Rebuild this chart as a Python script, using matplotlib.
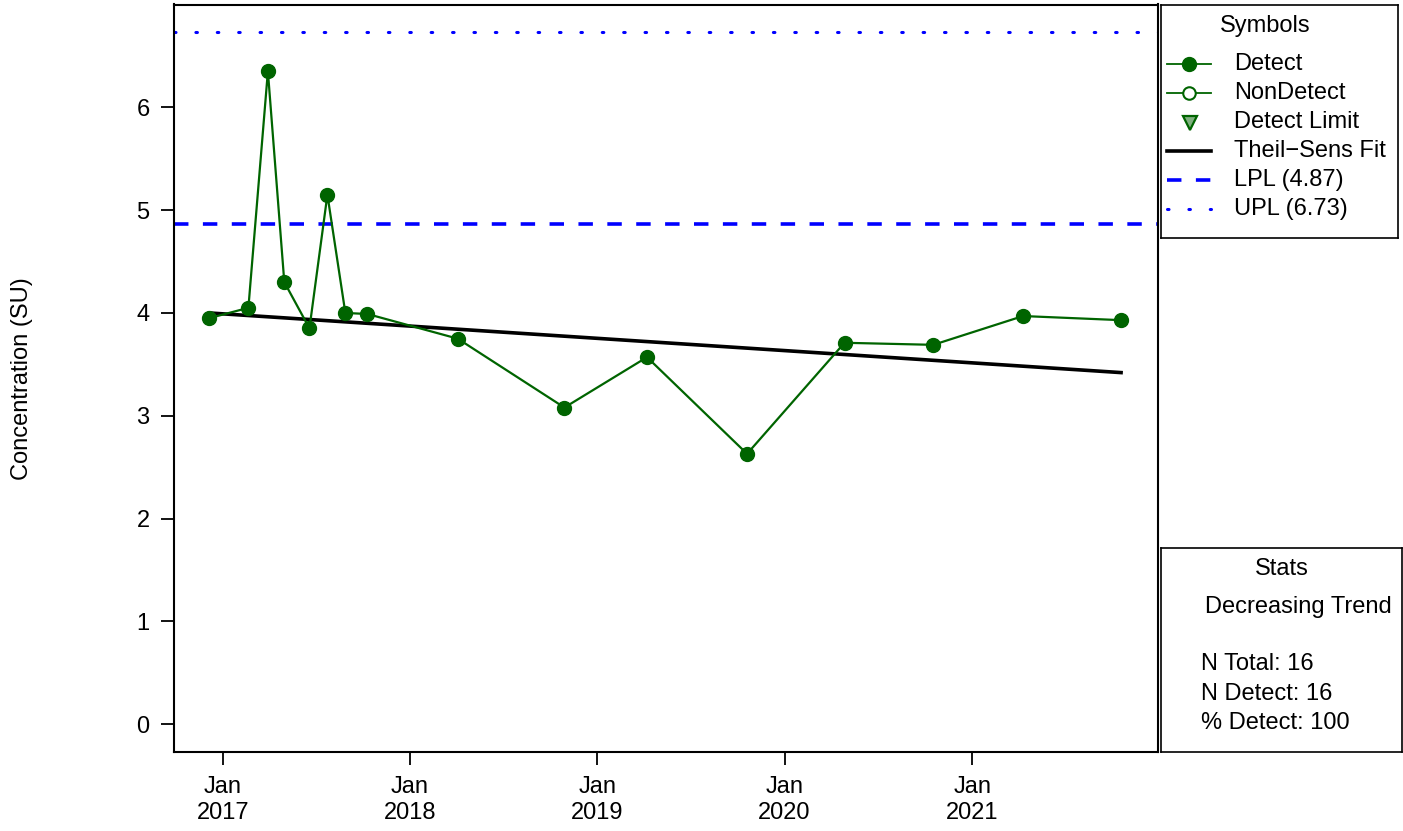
import numpy as np
import pandas as pd
import matplotlib
matplotlib.use("Agg")
from matplotlib import pyplot as plt
import matplotlib.dates as mdates
from matplotlib.lines import Line2D

plt.rcParams['font.family'] = ['Liberation Sans', 'DejaVu Sans']

# Sample data
sample_dates = pd.to_datetime([
    "2016-12-06", "2017-02-20", "2017-03-30", "2017-05-01", "2017-06-19",
    "2017-07-24", "2017-08-28", "2017-10-10", "2018-04-04", "2018-10-29",
    "2019-04-08", "2019-10-20", "2020-04-27", "2020-10-17", "2021-04-10",
    "2021-10-18"])
concentration = [3.95, 4.05, 6.35, 4.30, 3.85, 5.15, 4.00, 3.99, 3.75, 3.08,
                 3.57, 2.63, 3.71, 3.69, 3.97, 3.93]

# Theil-Sen fit end points
fit_dates = pd.to_datetime(["2016-12-06", "2021-10-18"])
fit_values = [4.00, 3.42]

lpl = 4.87
upl = 6.73

tick_years = [2017, 2018, 2019, 2020, 2021]
y_ticks = [0, 1, 2, 3, 4, 5, 6]

legend_labels = ["Detect", "NonDetect", "Detect Limit", "Theil\u2212Sens Fit",
                 "LPL (%.2f)" % lpl, "UPL (%.2f)" % upl]
stats_lines = ["N Total: 16", "N Detect: 16", "% Detect: 100"]
trend_text = "Decreasing Trend"

W, H = 1403, 831
fig = plt.figure(figsize=(W / 100, H / 100), dpi=100)

def px_axes(x0, y0, x1, y1):
    # Axes from pixel box (top-left origin)
    return fig.add_axes([x0 / W, 1 - y1 / H, (x1 - x0) / W, (y1 - y0) / H])

green = "#006400"
blue = "#0000FF"
fs = 17

ax = px_axes(174, 4.5, 1158, 752)
ax.plot(sample_dates, concentration, color=green, lw=1.6, marker="o",
        markersize=10, markerfacecolor=green, markeredgecolor=green, zorder=3)
ax.plot(fit_dates, fit_values, color="black", lw=2.6, zorder=2)
ax.axhline(lpl, color=blue, lw=2.6, linestyle=(0, (4, 4)), zorder=1)
ax.axhline(upl, color=blue, lw=2.2, linestyle=(0, (0.5, 6.5)),
           dash_capstyle="round", zorder=1)

ax.set_xlim(pd.Timestamp("2016-09-28"), pd.Timestamp("2021-12-29"))
ax.set_ylim(-0.27, 7.0)
ax.set_yticks(y_ticks)
ax.set_xticks([pd.Timestamp("%d-01-01" % y) for y in tick_years])
ax.set_xticklabels(["Jan\n%d" % y for y in tick_years], linespacing=1.2)
ax.tick_params(axis="both", labelsize=fs, length=9.5, width=1.3, pad=8,
               direction="out", colors="black")
for s in ax.spines.values():
    s.set_linewidth(1.5)
ax.set_ylabel("Concentration (SU)", fontsize=fs)
ax.yaxis.set_label_coords(-(174 - 22) / 984, 0.5)
ax.yaxis.label.set_verticalalignment("center")

# Symbols legend box
lg = px_axes(1161, 5, 1398, 238)
lg.set_xlim(0, 237)
lg.set_ylim(233, 0)
lg.set_xticks([])
lg.set_yticks([])
for s in lg.spines.values():
    s.set_linewidth(1.2)
lg.text(104, 21, "Symbols", fontsize=fs, ha="center", va="center")
rows = [59, 88, 117, 146, 175, 204]
lg.plot([6, 50], [rows[0]] * 2, color=green, lw=1.3)
lg.plot([28], [rows[0]], marker="o", markersize=10, color=green)
lg.plot([6, 50], [rows[1]] * 2, color=green, lw=1.3)
lg.plot([28], [rows[1]], marker="o", markersize=9, markerfacecolor="white",
        markeredgecolor=green, markeredgewidth=1.5)
lg.plot([29], [rows[2] + 1], marker="v", markersize=10, markerfacecolor="#80B080",
        markeredgecolor=green, markeredgewidth=1.6)
lg.plot([6, 50], [rows[3]] * 2, color="black", lw=2.6)
lg.plot([6, 50], [rows[4]] * 2, color=blue, lw=2.6, linestyle=(0, (4, 4)))
lg.plot([6, 50], [rows[5]] * 2, color=blue, lw=2.2, linestyle=(0, (0.5, 6.5)),
        dash_capstyle="round")
for r, lab in zip(rows, legend_labels):
    lg.text(73, r, lab, fontsize=fs, ha="left", va="center")

# Stats box
st = px_axes(1161, 548, 1402, 752)
st.set_xlim(0, 241)
st.set_ylim(204, 0)
st.set_xticks([])
st.set_yticks([])
for s in st.spines.values():
    s.set_linewidth(1.2)
st.text(121, 21, "Stats", fontsize=fs, ha="center", va="center")
st.text(44, 59, trend_text, fontsize=fs, ha="left", va="center")
for r, lab in zip([116, 146, 175], stats_lines):
    st.text(40, r, lab, fontsize=fs, ha="left", va="center")

fig.savefig("out.png", dpi=100)
